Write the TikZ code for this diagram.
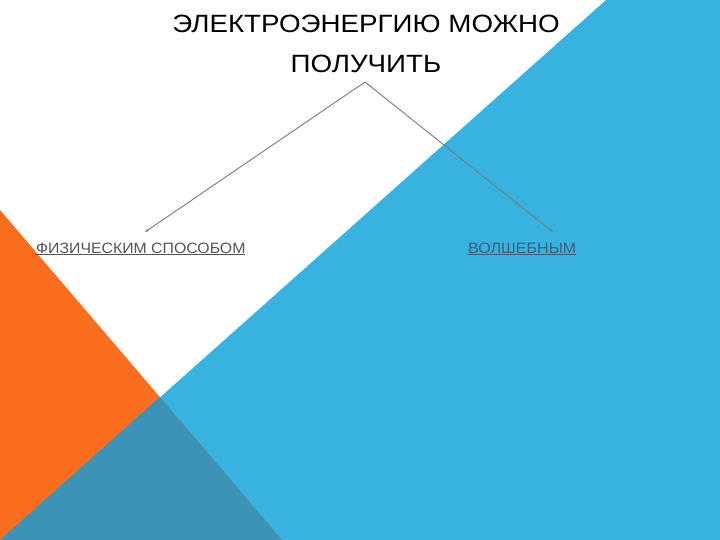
\documentclass[tikz,border=0pt]{standalone}
\usepackage{fontspec}
\setmainfont{Liberation Sans}
\usetikzlibrary{arrows.meta}
\definecolor{skyb}{HTML}{38B2DE}
\definecolor{orng}{HTML}{F86E1E}
\definecolor{teal2}{HTML}{3C93B5}
\definecolor{linegray}{HTML}{7A7A7A}
\definecolor{txtgray}{HTML}{555555}
\definecolor{txtblue}{HTML}{3E5E78}
\tikzset{
  conn/.style={draw=linegray, line width=0.9pt, -{Stealth[length=4pt,width=3pt]}},
  lbl/.style={font=\fontsize{15}{18}\selectfont, inner sep=0pt, anchor=base west}
}
\begin{document}
\begin{tikzpicture}[x=1pt,y=-1pt]
\useasboundingbox (0,0) rectangle (720,540);
\fill[white] (0,0) rectangle (720,540);
\fill[skyb] (606,0) -- (720,0) -- (720,540) -- (0,540) -- cycle;
\fill[orng] (0,210) -- (282,540) -- (0,540) -- cycle;
\fill[teal2] (160,397) -- (282,540) -- (0,540) -- cycle;
\node[font=\fontsize{25}{40}\selectfont, align=center, inner sep=0pt] (t) at (366,44) {\scalebox{1.11}[1]{ЭЛЕКТРОЭНЕРГИЮ МОЖНО}\\\scalebox{1.11}[1]{ПОЛУЧИТЬ}};
\node[lbl, text=txtgray] (a) at (36,253) {\scalebox{1.055}[1]{\underline{ФИЗИЧЕСКИМ СПОСОБОМ}}};
\node[lbl, text=txtblue] (b) at (468,253) {\scalebox{1.07}[1]{\underline{ВОЛШЕБНЫМ}}};
\coordinate (apex) at (365,82);
\coordinate (ea) at (145,232);
\coordinate (eb) at (553,232);
\draw[conn] (apex) -- (ea);
\draw[conn] (apex) -- (eb);
\end{tikzpicture}
\end{document}
